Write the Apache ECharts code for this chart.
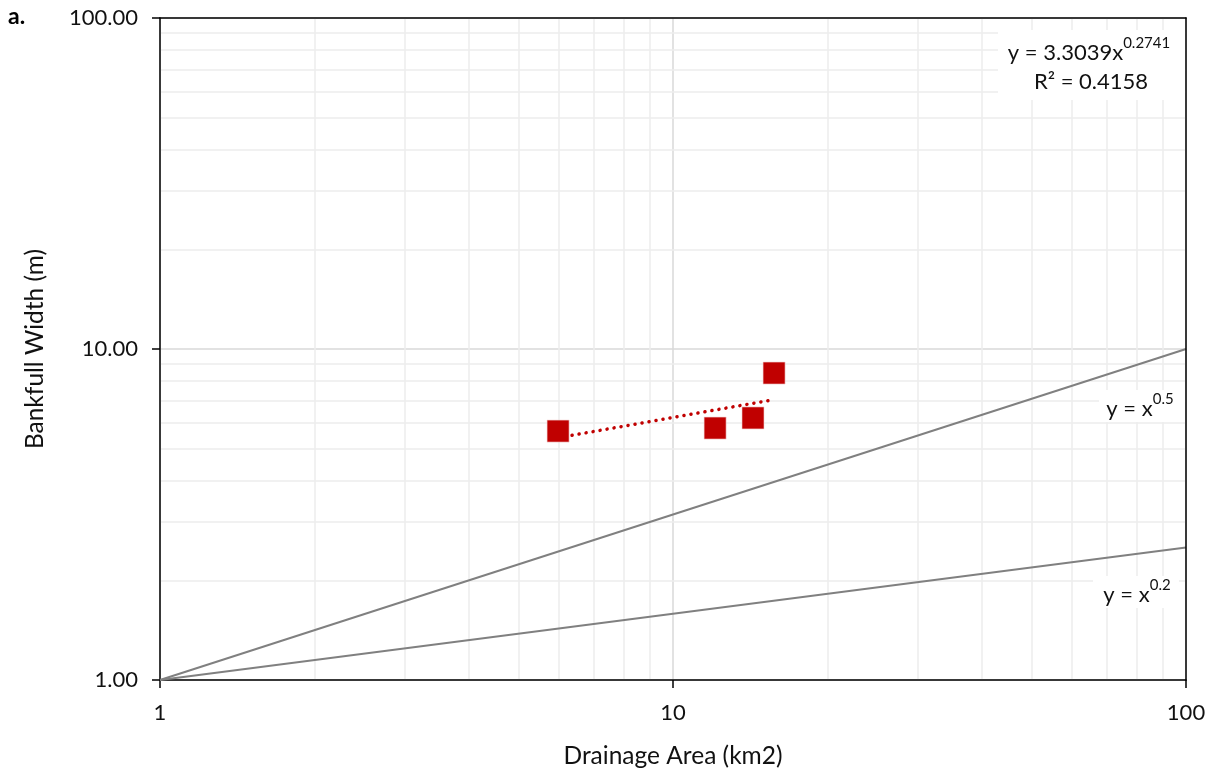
<!DOCTYPE html>
<html>
<head>
<meta charset="utf-8">
<script src="https://cdn.jsdelivr.net/npm/echarts@6/dist/echarts.min.js"></script>
<style>
  html, body { margin: 0; padding: 0; background: #fff; }
  #chart { width: 1217px; height: 776px; }
</style>
</head>
<body>
<div id="chart"></div>
<script>
// Measured streams: drainage area (km2) and bankfull width (m)
const drainageArea = [5.97, 12.08, 14.32, 15.74];
const bankfullWidth = [5.65, 5.77, 6.19, 8.46];

// Power-law fit reported for the streams: y = a * x^b
const fitA = 3.3039;
const fitB = 0.2741;
const fitR2 = 0.4158;

// Reference power laws y = x^p drawn across the full axis range
const refExponents = [0.5, 0.2];
const axisRange = [1, 100];

// Minor gridline positions on both log axes
const minorGrid = [2, 3, 4, 5, 6, 7, 8, 9, 20, 30, 40, 50, 60, 70, 80, 90];

const FONT = 'Lato, "Liberation Sans", sans-serif';
const TXT = '#111';

const points = drainageArea.map((x, i) => [x, bankfullWidth[i]]);
const xMin = Math.min(...drainageArea), xMax = Math.max(...drainageArea);
const trend = [xMin, xMax].map(x => [x, fitA * Math.pow(x, fitB)]);
const refLines = refExponents.map(p => axisRange.map(x => [x, Math.pow(x, p)]));

const chart = echarts.init(document.getElementById('chart'), null, { renderer: 'canvas' });

const blackLine = { color: '#000', width: 1.5 };

// Rich-text styles for "base + superscript" annotations
function supRich(base, sup) {
  return {
    b: { fontFamily: FONT, fontSize: base, lineHeight: 28, verticalAlign: 'bottom', fill: TXT },
    s: { fontFamily: FONT, fontSize: sup, lineHeight: 16, verticalAlign: 'top', fill: TXT }
  };
}

chart.setOption({
  animation: false,
  backgroundColor: '#fff',
  grid: { left: 160, right: 31, top: 18, bottom: 96 },
  xAxis: [
    {
      type: 'log', logBase: 10, min: 1, max: 100,
      name: 'Drainage Area (km2)', nameLocation: 'middle', nameGap: 64,
      nameTextStyle: { fontFamily: FONT, fontSize: 24.5, color: TXT },
      axisLine: { show: true, lineStyle: blackLine },
      axisTick: { show: true, length: 8, lineStyle: blackLine },
      axisLabel: { fontFamily: FONT, fontSize: 22, color: TXT, margin: 22 },
      splitLine: { show: true, lineStyle: { color: '#d9d9d9', width: 1.5 } }
    },
    {
      type: 'log', logBase: 10, min: 1, max: 100, position: 'top', z: 10,
      axisLine: { show: true, lineStyle: blackLine },
      axisTick: { show: false }, axisLabel: { show: false }, splitLine: { show: false }
    }
  ],
  yAxis: [
    {
      type: 'log', logBase: 10, min: 1, max: 100,
      name: 'Bankfull Width (m)', nameLocation: 'middle', nameGap: 112,
      nameTextStyle: { fontFamily: FONT, fontSize: 24.5, color: TXT },
      axisLine: { show: true, lineStyle: blackLine },
      axisTick: { show: true, length: 8, lineStyle: blackLine },
      axisLabel: { fontFamily: FONT, fontSize: 22, color: TXT, margin: 22, formatter: v => Number(v).toFixed(2) },
      splitLine: { show: true, lineStyle: { color: '#d9d9d9', width: 1.5 } }
    },
    {
      type: 'log', logBase: 10, min: 1, max: 100, position: 'right', z: 10,
      axisLine: { show: true, lineStyle: blackLine },
      axisTick: { show: false }, axisLabel: { show: false }, splitLine: { show: false }
    }
  ],
  series: [
    {
      name: 'minor-grid', type: 'line', data: [], z: 0, silent: true,
      markLine: {
        silent: true, z: 0, symbol: ['none', 'none'], label: { show: false },
        lineStyle: { color: '#ededed', type: 'solid', width: 1.5 },
        data: minorGrid.map(v => ({ xAxis: v })).concat(minorGrid.map(v => ({ yAxis: v })))
      }
    },
    ...refLines.map((d, i) => ({
      name: 'ref' + i, type: 'line', data: d, showSymbol: false, symbol: 'none',
      lineStyle: { color: '#808080', width: 2 }, z: 6, silent: true
    })),
    {
      name: 'trend', type: 'line', data: trend, showSymbol: false, symbol: 'none', z: 7,
      lineStyle: { color: '#c00000', width: 3.5, type: [0.1, 7], cap: 'round' }
    },
    {
      name: 'streams', type: 'scatter', data: points, symbol: 'rect', symbolSize: 22, z: 8,
      itemStyle: { color: '#c00000', opacity: 1, borderColor: '#f2d0d0', borderWidth: 0.6 }
    }
  ],
  graphic: [
    {
      type: 'text', left: 8, top: 5,
      style: { text: 'a.', fontFamily: FONT, fontSize: 23, fontWeight: 'bold', fill: '#000' }
    },
    {
      type: 'rect', shape: { x: 998, y: 30, width: 187, height: 70 }, style: { fill: '#fff' }, z: 10
    },
    {
      type: 'text', x: 1089, y: 50, z: 11,
      style: {
        text: '{b|y = 3.3039x}{s|' + fitB + '}', align: 'center', verticalAlign: 'middle',
        rich: supRich(22, 15)
      }
    },
    {
      type: 'text', x: 1091, y: 82, z: 11,
      style: { text: 'R² = ' + fitR2, align: 'center', verticalAlign: 'middle', fontFamily: FONT, fontSize: 22, fill: TXT }
    },
    {
      type: 'rect', shape: { x: 1099, y: 390, width: 86, height: 32 }, style: { fill: '#fff' }, z: 10
    },
    {
      type: 'text', x: 1140, y: 406, z: 11,
      style: { text: '{b|y = x}{s|0.5}', align: 'center', verticalAlign: 'middle', rich: supRich(22, 15) }
    },
    {
      type: 'rect', shape: { x: 1093, y: 576, width: 86, height: 32 }, style: { fill: '#fff' }, z: 10
    },
    {
      type: 'text', x: 1137, y: 592, z: 11,
      style: { text: '{b|y = x}{s|0.2}', align: 'center', verticalAlign: 'middle', rich: supRich(22, 15) }
    }
  ]
});
</script>
</body>
</html>
